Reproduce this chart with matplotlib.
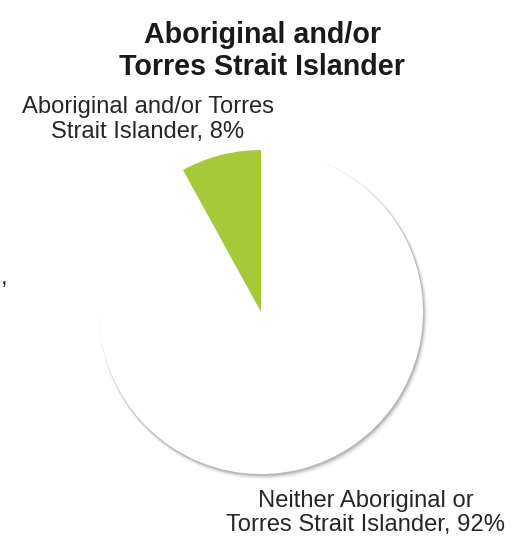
import matplotlib.pyplot as plt
from matplotlib.patches import Circle

# share of respondents by Indigenous status
labels = ["Aboriginal and/or Torres\nStrait Islander", "Neither Aboriginal or\nTorres Strait Islander"]
shares = [8, 92]
colours = ["#A5C93A", "#FFFFFF"]
title_lines = ["Aboriginal and/or", "Torres Strait Islander"]

W, H = 528, 540
fig = plt.figure(figsize=(W / 100, H / 100), dpi=100)
ax = fig.add_axes([0, 0, 1, 1])

plt.rcParams["font.family"] = ["Liberation Sans", "DejaVu Sans"]

cx, cy, r = 261, H - 312, 162

# soft drop shadow under the pie, heavier toward bottom right
for i, a in enumerate([0.16, 0.12, 0.08, 0.05, 0.03]):
    ax.add_patch(Circle((cx + 1.0 + 0.35 * i, cy - 1.5 - 0.45 * i), r + 0.3 + 0.5 * i,
                        facecolor="#4a4a4a", edgecolor="none", alpha=a, zorder=1))

ax.pie(shares, colors=colours, startangle=90, counterclock=True,
       center=(cx, cy), radius=r, frame=True,
       wedgeprops=dict(linewidth=0, zorder=2))
ax.set_xlim(0, W)
ax.set_ylim(0, H)
ax.set_aspect("equal")
ax.axis("off")

# title, one line at a time
for line, base in zip(title_lines, [43, 75]):
    ax.text(262, H - base, line, ha="center", va="baseline", fontsize=20.6,
            fontweight="bold", color="#1a1a1a")

# slice labels
label_pos = [(148, [113, 138]), (366, [507, 531])]
for lab, pct, (x, bases) in zip(labels, shares, label_pos):
    lines = f"{lab}, {pct}%".split("\n")
    for line, base in zip(lines, bases):
        ax.text(x, H - base, line, ha="center", va="baseline", fontsize=17.1,
                color="#262626")

# stray separator left over at the edge
ax.text(4, H - 284, ",", ha="center", va="baseline", fontsize=17.1, color="#262626")

fig.savefig("out.png", dpi=100)
